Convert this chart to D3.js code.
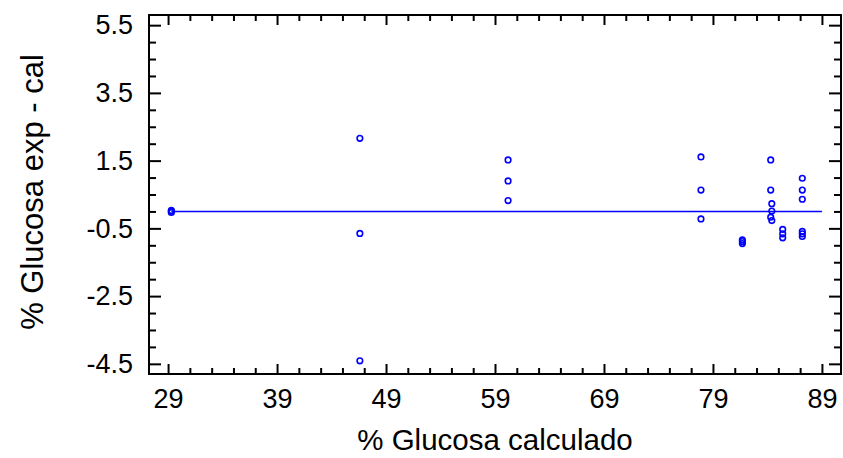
<!DOCTYPE html>
<html>
<head>
<meta charset="utf-8">
<script src="https://cdn.jsdelivr.net/npm/d3@7"></script>
<style>
  body { margin: 0; background: #fff; }
  svg { display: block; font-family: "Liberation Sans", Arial, sans-serif; }
  .axis line { stroke: #000; stroke-width: 2; }
</style>
</head>
<body>
<svg id="chart" width="843" height="458"></svg>
<script>
// glucosa calculada vs residuo (exp - cal)
var calculado = [29.3, 29.3, 29.3,
	46.6, 46.6, 46.6,
	60.2, 60.2, 60.2,
	77.9, 77.9, 77.9,
	81.7, 81.7, 81.7,
	84.3, 84.3, 84.4, 84.4, 84.3, 84.4,
	85.4, 85.4, 85.4,
	87.2, 87.2, 87.2, 87.2, 87.2, 87.2];
var residuo = [0.03, -0.03, 0.0,
	2.16, -0.65, -4.41,
	1.52, 0.90, 0.32,
	1.61, 0.63, -0.22,
	-0.84, -0.89, -0.95,
	1.52, 0.63, 0.23, 0.01, -0.17, -0.27,
	-0.53, -0.66, -0.78,
	0.98, 0.63, 0.36, -0.59, -0.66, -0.74];
var xTicks = [29, 39, 49, 59, 69, 79, 89];
var yTicks = [-4.5, -2.5, -0.5, 1.5, 3.5, 5.5];
var lineX = [29.3, 89];

var svg = d3.select("#chart");
var mLeft = 149, mRight = 841, mTop = 15, mBottom = 374;

var x = d3.scaleLinear().domain([27.25, 90.75]).range([mLeft, mRight]);
var y = d3.scaleLinear().domain([-4.8, 5.8]).range([mBottom, mTop]);

var xMinor = d3.range(31, 89, 2).filter(function(v){ return xTicks.indexOf(v) < 0; });
var yMinor = d3.range(-4.5, 5.6, 0.5).filter(function(v){
	return yTicks.indexOf(Math.round(v*10)/10) < 0;
});

// frame
svg.append("rect")
	.attr("x", mLeft).attr("y", mTop)
	.attr("width", mRight - mLeft).attr("height", mBottom - mTop)
	.style("fill", "none").style("stroke", "#000").style("stroke-width", 2);

function addAxis(axis, tx, ty){
	var g = svg.append("g").attr("class", "axis")
		.attr("transform", "translate(" + tx + "," + ty + ")")
		.call(axis);
	g.select(".domain").remove();
	return g;
}

// bottom
var gb = addAxis(d3.axisBottom(x).tickValues(xTicks).tickSize(-10).tickPadding(15), 0, mBottom);
addAxis(d3.axisBottom(x).tickValues(xMinor).tickSize(-6).tickFormat(""), 0, mBottom);
// top
addAxis(d3.axisTop(x).tickValues(xTicks).tickSize(-10).tickFormat(""), 0, mTop);
addAxis(d3.axisTop(x).tickValues(xMinor).tickSize(-6).tickFormat(""), 0, mTop);
// left
var gl = addAxis(d3.axisLeft(y).tickValues(yTicks).tickSize(-12).tickPadding(16)
	.tickFormat(function(d){ return d.toFixed(1); }), mLeft, 0);
addAxis(d3.axisLeft(y).tickValues(yMinor).tickSize(-7).tickFormat(""), mLeft, 0);
// right
addAxis(d3.axisRight(y).tickValues(yTicks).tickSize(-12).tickFormat(""), mRight, 0);
addAxis(d3.axisRight(y).tickValues(yMinor).tickSize(-7).tickFormat(""), mRight, 0);

svg.selectAll(".axis text")
	.style("font-size", "27px")
	.style("font-family", "'Liberation Sans', Arial, sans-serif")
	.style("fill", "#000");
gb.selectAll("text").attr("dy", "0.71em");

// linea de residuo cero
svg.append("line")
	.attr("x1", x(lineX[0])).attr("x2", x(lineX[1]))
	.attr("y1", y(0)).attr("y2", y(0))
	.style("stroke", "#0000ff").style("stroke-width", 1.5);

svg.selectAll("circle.pt")
	.data(calculado)
	.enter().append("circle")
	.attr("class", "pt")
	.attr("cx", function(d){ return x(d); })
	.attr("cy", function(d, i){ return y(residuo[i]); })
	.attr("r", 2.8)
	.style("fill", "none")
	.style("stroke", "#0000ff")
	.style("stroke-width", 1.6);

// titulos
svg.append("text")
	.attr("x", 495).attr("y", 450)
	.attr("text-anchor", "middle")
	.style("font-size", "29.5px")
	.text("% Glucosa calculado");

svg.append("text")
	.attr("transform", "translate(43,192) rotate(-90)")
	.attr("text-anchor", "middle")
	.style("font-size", "31px")
	.text("% Glucosa exp - cal");
</script>
</body>
</html>
